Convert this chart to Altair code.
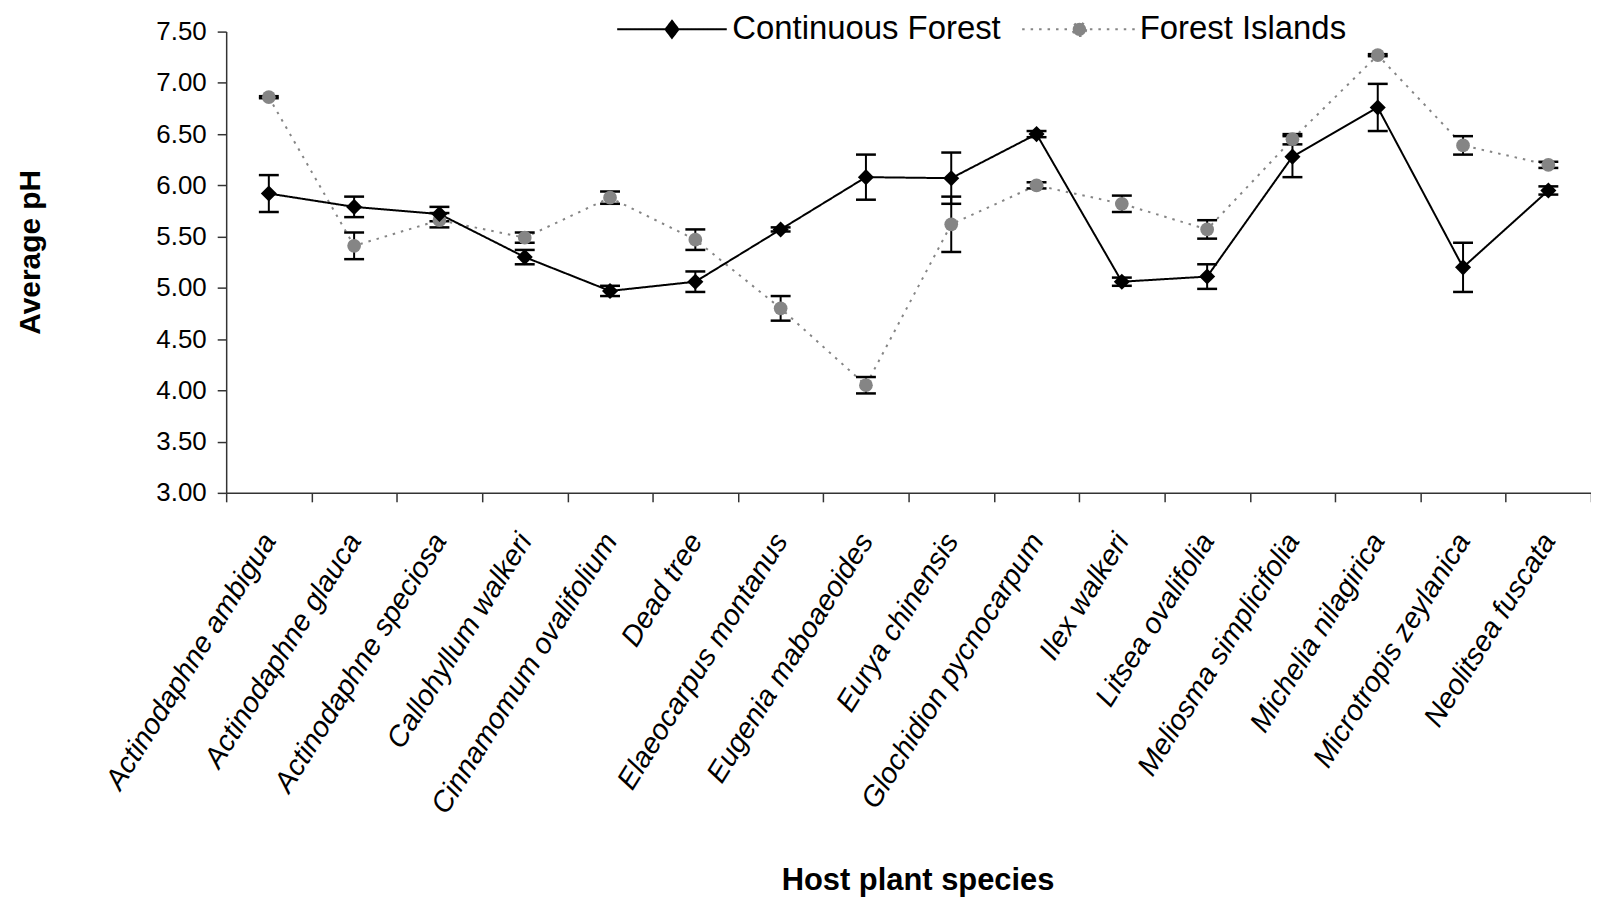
import altair as alt
import pandas as pd

species = [
    "Actinodaphne ambigua", "Actinodaphne glauca", "Actinodaphne speciosa",
    "Callohyllum walkeri", "Cinnamomum ovalifolium", "Dead tree",
    "Elaeocarpus montanus", "Eugenia maboaeoides", "Eurya chinensis",
    "Glochidion pycnocarpum", "Ilex walkeri", "Litsea ovalifolia",
    "Meliosma simplicifolia", "Michelia nilagirica", "Microtropis zeylanica",
    "Neolitsea fuscata",
]
series_names = ["Continuous Forest", "Forest Islands"]

cf_mean = [5.92, 5.79, 5.72, 5.30, 4.97, 5.06, 5.57, 6.08, 6.07, 6.50, 5.06, 5.11, 6.28, 6.76, 5.20, 5.95]
cf_err = [0.18, 0.10, 0.07, 0.07, 0.05, 0.10, 0.02, 0.22, 0.25, 0.03, 0.04, 0.12, 0.20, 0.23, 0.24, 0.04]
fi_mean = [6.86, 5.41, 5.66, 5.49, 5.88, 5.47, 4.80, 4.05, 5.62, 6.00, 5.82, 5.57, 6.45, 7.27, 6.39, 6.20]
fi_err = [0.01, 0.13, 0.07, 0.05, 0.06, 0.10, 0.12, 0.08, 0.27, 0.03, 0.08, 0.09, 0.05, 0.01, 0.09, 0.03]

y_ticks = [3.0, 3.5, 4.0, 4.5, 5.0, 5.5, 6.0, 6.5, 7.0, 7.5]

rows = []
for i, sp in enumerate(species):
    rows.append({"species": sp, "series": series_names[1], "ph": fi_mean[i], "err": fi_err[i], "order": i})
for i, sp in enumerate(species):
    rows.append({"species": sp, "series": series_names[0], "ph": cf_mean[i], "err": cf_err[i], "order": i})
df = pd.DataFrame(rows)

FONT = "Liberation Sans"
CF_COLOR = "#000000"
FI_COLOR = "#858585"
# legend symbols: unit paths scaled by sqrt(100)/2 = 5 px per unit
CF_PATH = "M-11,0L11,0M0,-1.7L1.3,0L0,1.7L-1.3,0Z"
FI_PATH = "M-11.5,0L11.5,0M1.35,0A1.35,1.35,0,1,1,-1.35,0A1.35,1.35,0,1,1,1.35,0Z"
FI_TEST = "datum.value === 'Forest Islands'"

PLOT_W = 1370
PLOT_H = 463

x_enc = alt.X(
    "species:N",
    sort=species,
    scale=alt.Scale(type="band", paddingInner=0, paddingOuter=0),
    axis=alt.Axis(
        title="Host plant species",
        labelAngle=-58,
        labelAlign="right",
        labelBaseline="middle",
        labelFont=FONT,
        labelFontSize=29,
        labelFontStyle="italic",
        labelColor="black",
        labelPadding=34,
        labelLimit=600,
        labelOverlap=False,
        labelFlush=False,
        tickBand="extent",
        tickSize=9,
        titleFont=FONT,
        titleFontSize=31,
        titleFontWeight="bold",
        titleColor="black",
        titleX=694,
        titleY=398,
        titleBaseline="alphabetic",
    ),
)

y_scale = alt.Scale(domain=[3, 7.5], nice=False, zero=False)
y_axis = alt.Axis(
    title="Average pH",
    values=y_ticks,
    format=".2f",
    grid=False,
    labelFont=FONT,
    labelFontSize=26,
    labelColor="black",
    labelPadding=11,
    tickSize=9,
    titleFont=FONT,
    titleFontSize=30,
    titleFontWeight="bold",
    titleColor="black",
    titleX=-196,
    titleY=221,
    titleBaseline="middle",
)

color_scale = alt.Scale(domain=series_names, range=[CF_COLOR, FI_COLOR])

legend = alt.Legend(
    title=None,
    orient="none",
    legendX=431,
    legendY=-19,
    direction="horizontal",
    columns=2,
    symbolSize=100,
    symbolStrokeWidth=2,
    symbolType=alt.ExprRef(expr=f"{FI_TEST} ? '{FI_PATH}' : '{CF_PATH}'"),
    symbolFillColor=alt.ExprRef(expr=f"{FI_TEST} ? '{FI_COLOR}' : '{CF_COLOR}'"),
    symbolStrokeColor=alt.ExprRef(expr=f"{FI_TEST} ? '{FI_COLOR}' : '{CF_COLOR}'"),
    symbolDash=alt.ExprRef(expr=f"{FI_TEST} ? [2.5, 6] : [1, 0]"),
    symbolOpacity=1,
    labelFont=FONT,
    labelFontSize=33,
    labelColor="black",
    labelLimit=600,
    labelOffset=44,
    columnPadding=17,
    padding=0,
    offset=0,
)

base = alt.Chart(df).transform_calculate(
    lo="datum.ph - datum.err", hi="datum.ph + datum.err"
)

lines = base.mark_line(strokeWidth=2).encode(
    x=x_enc,
    y=alt.Y("ph:Q", scale=y_scale, axis=y_axis),
    color=alt.Color("series:N", scale=color_scale, legend=legend),
    strokeDash=alt.StrokeDash(
        "series:N",
        scale=alt.Scale(domain=series_names, range=[[1, 0], [2.5, 6]]),
        legend=None,
    ),
    detail="series:N",
    order="order:Q",
)

rules = base.mark_rule(color="black", strokeWidth=2).encode(
    x=x_enc,
    y=alt.Y("lo:Q", scale=y_scale, axis=y_axis),
    y2="hi:Q",
)
caps_lo = base.mark_tick(color="black", thickness=2.5, size=20, opacity=1).encode(
    x=x_enc, y=alt.Y("lo:Q", scale=y_scale, axis=y_axis)
)
caps_hi = base.mark_tick(color="black", thickness=2.5, size=20, opacity=1).encode(
    x=x_enc, y=alt.Y("hi:Q", scale=y_scale, axis=y_axis)
)

fi_points = base.transform_filter(
    alt.datum.series == series_names[1]
).mark_point(filled=True, opacity=1, shape="circle", size=190, color=FI_COLOR).encode(
    x=x_enc,
    y=alt.Y("ph:Q", scale=y_scale, axis=y_axis),
)
cf_points = base.transform_filter(
    alt.datum.series == series_names[0]
).mark_point(filled=True, opacity=1, shape="diamond", size=260, color=CF_COLOR).encode(
    x=x_enc,
    y=alt.Y("ph:Q", scale=y_scale, axis=y_axis),
)

chart = (
    alt.layer(lines, rules, caps_lo, caps_hi, fi_points, cf_points)
    .properties(
        width=PLOT_W,
        height=PLOT_H,
        autosize=alt.AutoSizeParams(type="none"),
        padding={"left": 219, "top": 22, "right": 0, "bottom": 407},
        background="white",
    )
    .configure_view(strokeWidth=0)
    .configure_axis(
        domainColor="#333333",
        domainWidth=1.5,
        tickColor="#333333",
        tickWidth=1.5,
    )
)

chart.save("out.html", embed_options={"renderer": "svg", "actions": False})
